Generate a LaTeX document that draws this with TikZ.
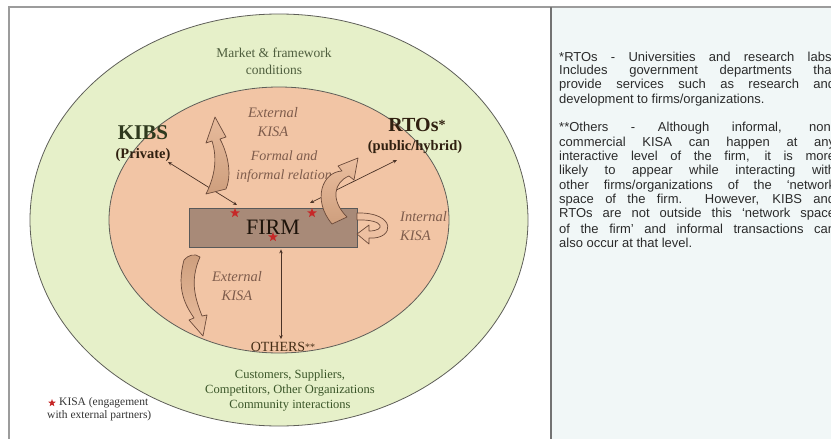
\documentclass[tikz,border=0pt]{standalone}
\usepackage{fontspec}
\setmainfont{Liberation Serif}
\newfontfamily\notefont{Liberation Sans}
\usetikzlibrary{shapes.geometric,arrows.meta}

\definecolor{outergreen}{HTML}{E6F0C9}
\definecolor{innersalmon}{HTML}{F2C5A5}
\definecolor{firmbrown}{HTML}{A88A78}
\definecolor{rimgray}{HTML}{5E5E58}
\definecolor{starred}{HTML}{C62828}
\definecolor{arrowtan}{HTML}{D0A488}
\definecolor{arrowline}{HTML}{6B4A3A}
\definecolor{linkbrown}{HTML}{4A3226}
\definecolor{italbrown}{HTML}{7E5C4C}
\definecolor{darkgreen}{HTML}{3B5629}
\definecolor{mktgreen}{HTML}{4F5E3E}
\definecolor{kibsgreen}{HTML}{2F3A1E}
\definecolor{panelfill}{HTML}{F1F7F7}
\definecolor{framegray}{HTML}{9C9C9C}
\definecolor{notegray}{HTML}{2B2B2B}

\newcommand\jline[1]{\makebox[276pt][s]{#1}}

\begin{document}
\begin{tikzpicture}[x=1pt,y=-1pt,
  lbl/.style={inner sep=0pt, align=center},
  ital/.style={lbl, text=italbrown, font=\fontsize{14.5}{19}\selectfont\itshape},
  link/.style={draw=linkbrown, line width=0.7pt,
    {Stealth[length=4pt,width=3.5pt]}-{Stealth[length=4pt,width=3.5pt]}},
  blockarrow/.style={draw=arrowline, line width=0.7pt, line join=round},
  kisastar/.style={star, star points=5, star point ratio=2.4, fill=starred,
    draw=none, minimum size=10pt, inner sep=0pt},
  noteline/.style={anchor=west, inner sep=0pt, text=notegray,
    font=\notefont\fontsize{13}{14}\selectfont},
  rim/.style={draw=rimgray, line width=0.8pt}
]
\useasboundingbox (0,0) rectangle (831,439);

% frame and notes panel
\fill[panelfill] (551,7) rectangle (831,439);
\draw[framegray, line width=1.5pt] (9,439) -- (9,7) -- (831,7);
\draw[gray!90!black, line width=2pt] (551,7) -- (551,439);

% nested environments
\draw[rim, fill=outergreen] (279,220) ellipse [x radius=249pt, y radius=206pt];
\draw[rim, fill=innersalmon] (279,220) ellipse [x radius=170pt, y radius=133pt];

% the firm
\node[draw=gray!70!black, line width=0.8pt, fill=firmbrown, minimum width=168pt,
  minimum height=39pt, inner sep=0pt, text=black!85!brown,
  font=\fontsize{22}{24}\selectfont] (firm) at (273,227.5) {FIRM};

% labels
\node[lbl, text=mktgreen, font=\fontsize{13.5}{17}\selectfont] (mkt) at (274,61)
  {Market \& framework\\conditions};
\node[lbl, text=kibsgreen, font=\fontsize{21}{23}\selectfont\bfseries] (kibs) at (143,133) {KIBS};
\node[lbl, text=black!75!brown, font=\fontsize{14.5}{17}\selectfont\bfseries] (kibsSub) at (143,155) {(Private)};
\node[lbl, text=black!75!brown, font=\fontsize{20}{23}\selectfont\bfseries] (rtos) at (417,125)
  {RTOs\raisebox{2pt}{\fontsize{14}{14}\selectfont *}};
\node[lbl, text=black!75!brown, font=\fontsize{14.5}{17}\selectfont\bfseries] (rtosSub) at (415,147) {(public/hybrid)};
\node[ital] (extUp) at (273,122.5) {External\\KISA};
\node[ital, font=\fontsize{14}{19}\selectfont\itshape] (formal) at (284,166.5) {Formal and\\informal relation};
\node[ital, align=left, anchor=west] (intK) at (400,226.5) {Internal\\KISA};
\node[ital] (extLow) at (237,286.5) {External\\KISA};
\node[lbl, text=black!65!brown, font=\fontsize{14}{16}\selectfont] (others) at (283,347)
  {OTHERS\raisebox{1pt}{\fontsize{10}{10}\selectfont **}};
\node[lbl, text=darkgreen, font=\fontsize{12.5}{15}\selectfont] (cust) at (290,391)
  {Customers, Suppliers,\\Competitors, Other Organizations\\Community interactions};

% connectors between the firm and its partners
\coordinate (kibsTip) at (168,162);
\coordinate (firmL) at (237,205);
\coordinate (rtosTip) at (397,160);
\coordinate (firmR) at (310,203);
\draw[link] (kibsTip) -- (firmL);
\draw[link] (firmR) -- (rtosTip);
\draw[link] ([xshift=8pt,yshift=-2pt]firm.south) -- ([xshift=-2pt,yshift=3pt]others.north);

% block arrows for knowledge-intensive service activities
\draw[blockarrow, top color=innersalmon!70!arrowtan, bottom color=arrowtan!85!brown]
  (206,194) .. controls (214,178) and (218,160) .. (212,141) -- (206,143)
  -- (215,117) -- (226,137) -- (220,139)
  .. controls (230,158) and (231,178) .. (226,189) -- cycle;
\draw[blockarrow, top color=innersalmon!80!arrowtan, bottom color=arrowtan!85!brown]
  (332,224) .. controls (312,200) and (322,172) .. (342,171) -- (338,166)
  -- (358,158) -- (354,180) -- (349,176)
  .. controls (334,182) and (330,200) .. (347,217) -- cycle;
\draw[blockarrow, fill=innersalmon!85!arrowtan]
  (357,213) .. controls (397,212) and (395,240) .. (369,238) -- (369,244)
  -- (357,234) -- (369,225) -- (369,231)
  .. controls (386,231) and (385,219) .. (357,220) -- cycle;
\draw[blockarrow, top color=arrowtan!85!brown, bottom color=innersalmon!80!arrowtan]
  (184,260) .. controls (176,290) and (186,306) .. (194,318) -- (189,320)
  -- (203,336) -- (207,315) -- (202,316)
  .. controls (196,300) and (189,282) .. (200,257)
  .. controls (195,253) and (188,255) .. (184,260) -- cycle;

% KISA engagement points
\node[kisastar] (s1) at (235,213) {};
\node[kisastar] (s2) at (312,213) {};
\node[kisastar] (s3) at (273,237) {};

% legend
\node[kisastar, minimum size=8pt] (legStar) at (52,403) {};
\node[lbl, anchor=west, text=black!80, font=\fontsize{11.5}{13}\selectfont] (legA) at (59,403) {KISA (engagement};
\node[lbl, anchor=west, text=black!80, font=\fontsize{11.5}{13}\selectfont] (legB) at (47,416) {with external partners)};

% footnotes
\node[noteline] (n1) at (559,57.0) {\jline{*RTOs - Universities and research labs.}};
\node[noteline] (n2) at (559,71.3) {\jline{Includes government departments that}};
\node[noteline] (n3) at (559,85.6) {\jline{provide services such as research and}};
\node[noteline] (n4) at (559,99.9) {development to firms/organizations.};
\node[noteline] (n5) at (559,128.5) {\jline{**Others - Although informal, non-}};
\node[noteline] (n6) at (559,142.8) {\jline{commercial KISA can happen at any}};
\node[noteline] (n7) at (559,157.1) {\jline{interactive level of the firm, it is more}};
\node[noteline] (n8) at (559,171.4) {\jline{likely to appear while interacting with}};
\node[noteline] (n9) at (559,185.7) {\jline{other firms/organizations of the ‘network}};
\node[noteline] (n10) at (559,200.0) {\jline{space of the firm.\ \ However, KIBS and}};
\node[noteline] (n11) at (559,214.3) {\jline{RTOs are not outside this ‘network space}};
\node[noteline] (n12) at (559,228.6) {\jline{of the firm’ and informal transactions can}};
\node[noteline] (n13) at (559,242.9) {also occur at that level.};
\end{tikzpicture}
\end{document}
